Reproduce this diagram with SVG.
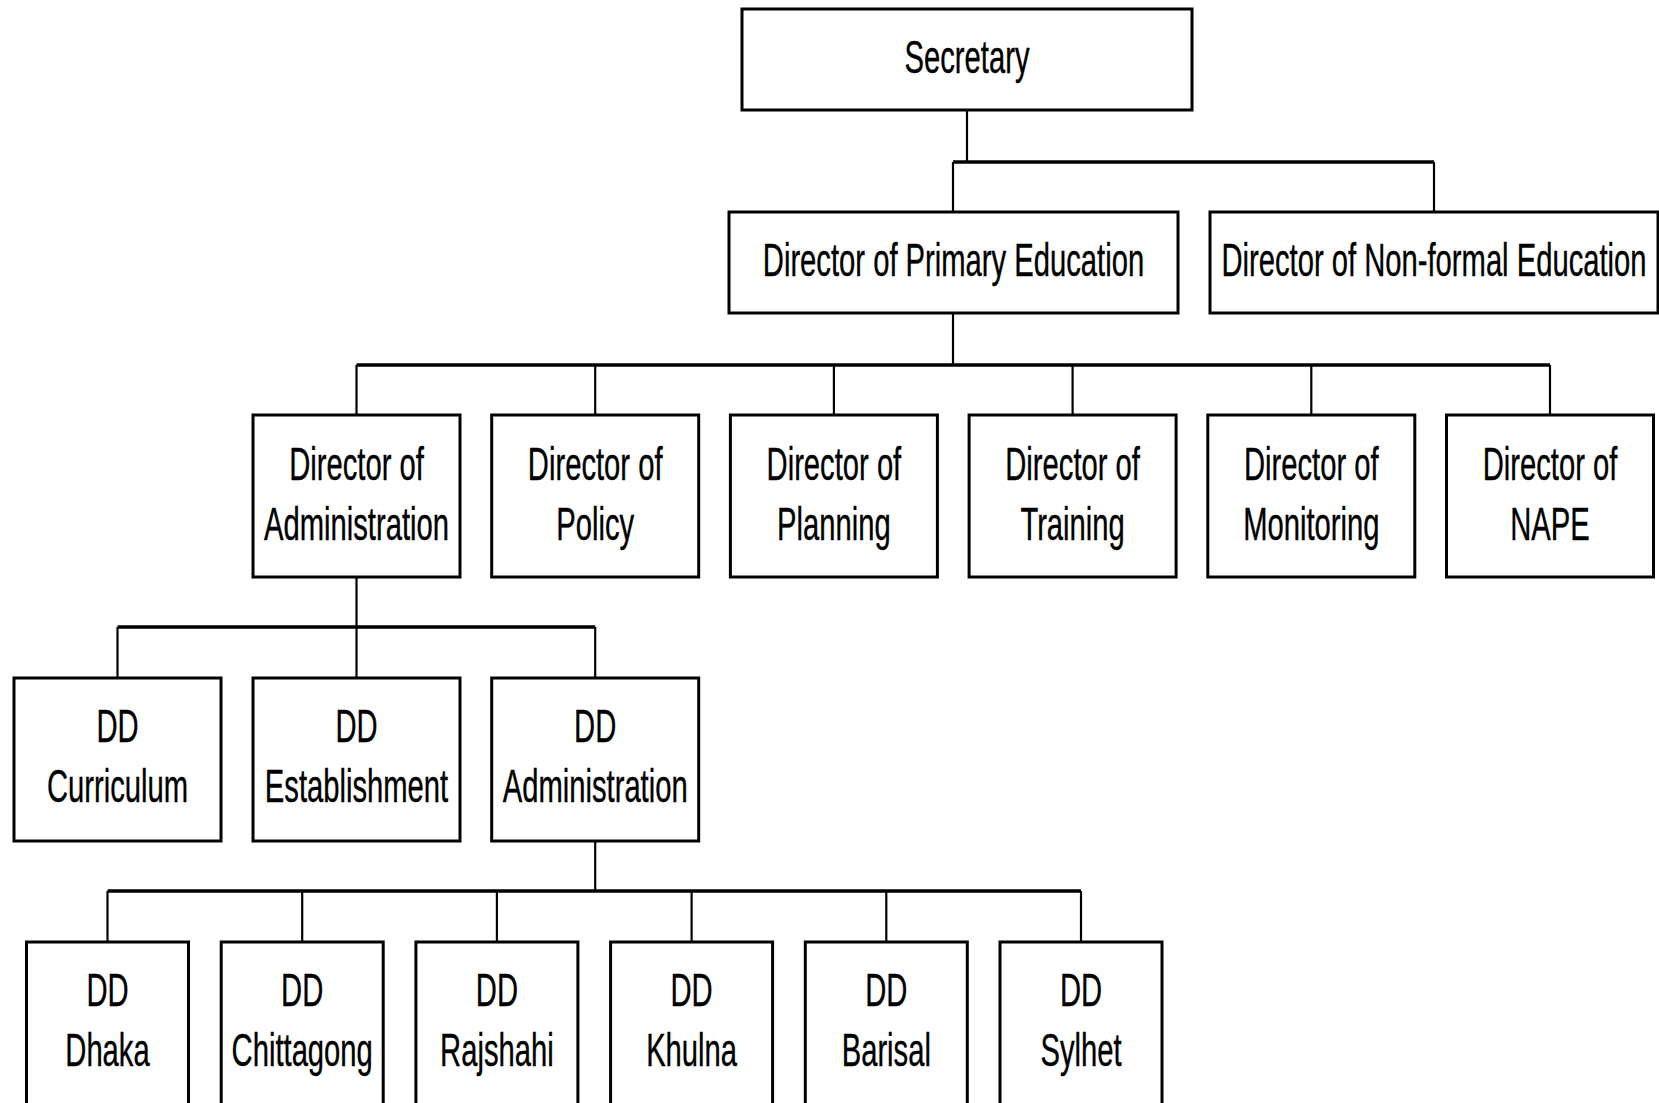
<svg xmlns="http://www.w3.org/2000/svg" width="1659" height="1103" viewBox="0 0 1659 1103">
<style>
  .box{fill:#fff;stroke:#000;stroke-width:3}
  .t{font-family:"Liberation Sans",Arial,sans-serif;font-size:46px;fill:#000;text-anchor:middle;stroke:#000;stroke-width:0.4}
  .h{stroke:#000;stroke-width:3.5;fill:none}
  .v{stroke:#000;stroke-width:2.2;fill:none}
</style>
<rect width="1659" height="1103" fill="#fff"/>
<g id="connectors">
  <line class="v" x1="967" y1="110" x2="967" y2="162"/>
  <line class="h" x1="953" y1="162" x2="1434" y2="162"/>
  <line class="v" x1="953" y1="162" x2="953" y2="212"/>
  <line class="v" x1="1434" y1="162" x2="1434" y2="212"/>
  <line class="v" x1="953" y1="313" x2="953" y2="365"/>
  <line class="h" x1="356.5" y1="365" x2="1550" y2="365"/>
  <line class="v" x1="356.5" y1="365" x2="356.5" y2="415"/>
  <line class="v" x1="595.2" y1="365" x2="595.2" y2="415"/>
  <line class="v" x1="833.9" y1="365" x2="833.9" y2="415"/>
  <line class="v" x1="1072.6" y1="365" x2="1072.6" y2="415"/>
  <line class="v" x1="1311.3" y1="365" x2="1311.3" y2="415"/>
  <line class="v" x1="1550" y1="365" x2="1550" y2="415"/>
  <line class="v" x1="356.5" y1="577" x2="356.5" y2="627"/>
  <line class="h" x1="117.5" y1="627" x2="595.2" y2="627"/>
  <line class="v" x1="117.5" y1="627" x2="117.5" y2="678"/>
  <line class="v" x1="356.5" y1="627" x2="356.5" y2="678"/>
  <line class="v" x1="595.2" y1="627" x2="595.2" y2="678"/>
  <line class="v" x1="595.2" y1="841" x2="595.2" y2="891"/>
  <line class="h" x1="107.5" y1="891" x2="1081" y2="891"/>
  <line class="v" x1="107.5" y1="891" x2="107.5" y2="942"/>
  <line class="v" x1="302.2" y1="891" x2="302.2" y2="942"/>
  <line class="v" x1="496.9" y1="891" x2="496.9" y2="942"/>
  <line class="v" x1="691.6" y1="891" x2="691.6" y2="942"/>
  <line class="v" x1="886.3" y1="891" x2="886.3" y2="942"/>
  <line class="v" x1="1081" y1="891" x2="1081" y2="942"/>
</g>
<g id="secretary">
  <rect class="box" x="742" y="9" width="450" height="101"/>
  <text class="t" transform="translate(967,73) scale(0.635,1)">Secretary</text>
</g>
<g id="dir-primary">
  <rect class="box" x="729" y="212" width="449" height="101"/>
  <text class="t" transform="translate(953.5,276) scale(0.635,1)">Director of Primary Education</text>
</g>
<g id="dir-nonformal">
  <rect class="box" x="1210" y="212" width="448" height="101"/>
  <text class="t" transform="translate(1434,276) scale(0.635,1)">Director of Non-formal Education</text>
</g>
<g id="dir-admin">
  <rect class="box" x="253" y="415" width="207" height="162"/>
  <text class="t" transform="translate(356.5,480) scale(0.635,1)"><tspan x="0" y="0">Director of</tspan><tspan x="0" y="60">Administration</tspan></text>
</g>
<g id="dir-policy">
  <rect class="box" x="491.7" y="415" width="207" height="162"/>
  <text class="t" transform="translate(595.2,480) scale(0.635,1)"><tspan x="0" y="0">Director of</tspan><tspan x="0" y="60">Policy</tspan></text>
</g>
<g id="dir-planning">
  <rect class="box" x="730.4" y="415" width="207" height="162"/>
  <text class="t" transform="translate(833.9,480) scale(0.635,1)"><tspan x="0" y="0">Director of</tspan><tspan x="0" y="60">Planning</tspan></text>
</g>
<g id="dir-training">
  <rect class="box" x="969.1" y="415" width="207" height="162"/>
  <text class="t" transform="translate(1072.6,480) scale(0.635,1)"><tspan x="0" y="0">Director of</tspan><tspan x="0" y="60">Training</tspan></text>
</g>
<g id="dir-monitoring">
  <rect class="box" x="1207.8" y="415" width="207" height="162"/>
  <text class="t" transform="translate(1311.3,480) scale(0.635,1)"><tspan x="0" y="0">Director of</tspan><tspan x="0" y="60">Monitoring</tspan></text>
</g>
<g id="dir-nape">
  <rect class="box" x="1446.5" y="415" width="207" height="162"/>
  <text class="t" transform="translate(1550,480) scale(0.635,1)"><tspan x="0" y="0">Director of</tspan><tspan x="0" y="60">NAPE</tspan></text>
</g>
<g id="dd-curriculum">
  <rect class="box" x="14" y="678" width="207" height="163"/>
  <text class="t" transform="translate(117.5,742) scale(0.635,1)"><tspan x="0" y="0">DD</tspan><tspan x="0" y="60">Curriculum</tspan></text>
</g>
<g id="dd-establishment">
  <rect class="box" x="253" y="678" width="207" height="163"/>
  <text class="t" transform="translate(356.5,742) scale(0.635,1)"><tspan x="0" y="0">DD</tspan><tspan x="0" y="60">Establishment</tspan></text>
</g>
<g id="dd-administration">
  <rect class="box" x="491.7" y="678" width="207" height="163"/>
  <text class="t" transform="translate(595.2,742) scale(0.635,1)"><tspan x="0" y="0">DD</tspan><tspan x="0" y="60">Administration</tspan></text>
</g>
<g id="dd-dhaka">
  <rect class="box" x="26.5" y="942" width="162" height="166"/>
  <text class="t" transform="translate(107.5,1006) scale(0.635,1)"><tspan x="0" y="0">DD</tspan><tspan x="0" y="60">Dhaka</tspan></text>
</g>
<g id="dd-chittagong">
  <rect class="box" x="221.2" y="942" width="162" height="166"/>
  <text class="t" transform="translate(302.2,1006) scale(0.635,1)"><tspan x="0" y="0">DD</tspan><tspan x="0" y="60">Chittagong</tspan></text>
</g>
<g id="dd-rajshahi">
  <rect class="box" x="415.9" y="942" width="162" height="166"/>
  <text class="t" transform="translate(496.9,1006) scale(0.635,1)"><tspan x="0" y="0">DD</tspan><tspan x="0" y="60">Rajshahi</tspan></text>
</g>
<g id="dd-khulna">
  <rect class="box" x="610.6" y="942" width="162" height="166"/>
  <text class="t" transform="translate(691.6,1006) scale(0.635,1)"><tspan x="0" y="0">DD</tspan><tspan x="0" y="60">Khulna</tspan></text>
</g>
<g id="dd-barisal">
  <rect class="box" x="805.3" y="942" width="162" height="166"/>
  <text class="t" transform="translate(886.3,1006) scale(0.635,1)"><tspan x="0" y="0">DD</tspan><tspan x="0" y="60">Barisal</tspan></text>
</g>
<g id="dd-sylhet">
  <rect class="box" x="1000" y="942" width="162" height="166"/>
  <text class="t" transform="translate(1081,1006) scale(0.635,1)"><tspan x="0" y="0">DD</tspan><tspan x="0" y="60">Sylhet</tspan></text>
</g>
</svg>
